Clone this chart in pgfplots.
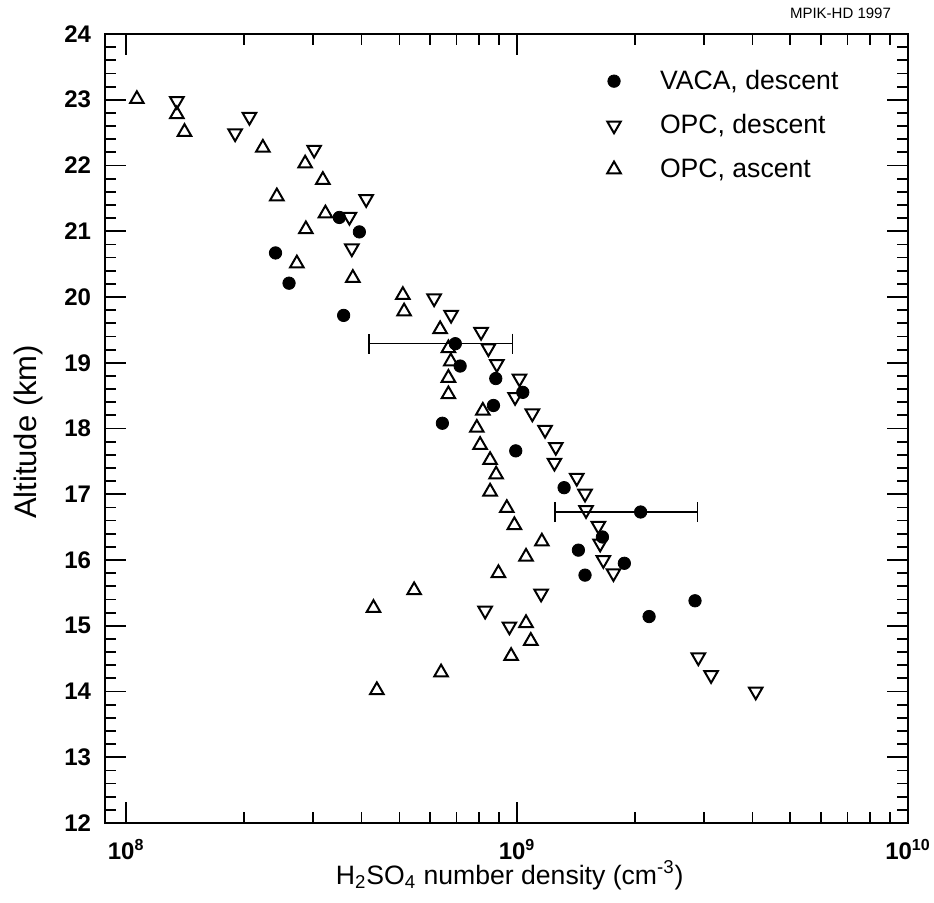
\documentclass[border=0pt]{standalone}
\usepackage{fontspec}
\setmainfont{Liberation Sans}
\usepackage{pgfplots}
\pgfplotsset{compat=1.18}

% VACA, descent (no error bar)
\pgfplotstableread{
x y
3.51e8 21.21
3.95e8 20.99
2.41e8 20.67
2.61e8 20.21
3.60e8 19.72
7.15e8 18.95
8.82e8 18.76
1.034e9 18.55
8.70e8 18.35
6.44e8 18.08
9.92e8 17.66
1.319e9 17.10
1.653e9 16.35
1.435e9 16.15
1.881e9 15.95
1.492e9 15.77
2.176e9 15.14
2.852e9 15.38
}\vaca
% VACA points with error bars
\pgfplotstableread{
x y ex
6.95e8 19.29 2.77e8
2.07e9 16.73 8.2e8
}\vacaerr
% OPC, descent
\pgfplotstableread{
x y
1.348e8 22.98
2.067e8 22.74
1.900e8 22.49
3.026e8 22.24
4.111e8 21.49
3.725e8 21.22
3.778e8 20.74
6.134e8 19.98
6.779e8 19.73
8.088e8 19.47
8.445e8 19.22
8.874e8 18.98
1.014e9 18.76
9.883e8 18.48
1.094e9 18.23
1.179e9 17.98
1.256e9 17.72
1.246e9 17.48
1.421e9 17.25
1.492e9 17.01
1.501e9 16.76
1.614e9 16.52
1.631e9 16.25
1.662e9 16.00
1.764e9 15.80
1.152e9 15.49
8.284e8 15.23
9.557e8 14.99
2.908e9 14.52
3.135e9 14.25
4.078e9 14.00
}\opcdown
% OPC, ascent
\pgfplotstableread{
x y
1.065e8 23.01
1.348e8 22.78
1.410e8 22.51
2.237e8 22.27
2.870e8 22.03
3.185e8 21.78
2.429e8 21.53
3.234e8 21.27
2.882e8 21.03
2.733e8 20.51
3.801e8 20.29
5.102e8 20.03
5.140e8 19.78
6.355e8 19.51
6.673e8 19.22
6.768e8 19.02
6.673e8 18.77
6.673e8 18.52
8.172e8 18.27
7.888e8 18.01
8.043e8 17.75
8.530e8 17.52
8.838e8 17.30
8.530e8 17.04
9.412e8 16.79
9.842e8 16.53
1.157e9 16.28
1.054e9 16.05
8.959e8 15.80
5.453e8 15.54
4.292e8 15.27
1.054e9 15.04
1.084e9 14.77
9.654e8 14.54
6.391e8 14.29
4.378e8 14.02
}\opcup

\begin{document}
\begin{tikzpicture}
\useasboundingbox (-52.5pt,-39.5pt) rectangle (414.5pt,411.5pt);
\begin{axis}[
    scale only axis,
    width=401.5pt, height=394.5pt,
    xmode=log,
    xmin=8.83e7, xmax=1e10,
    ymin=12, ymax=24,
    xtick={1e8,1e9,1e10},
    xticklabels={10\textsuperscript{8},10\textsuperscript{9},10\textsuperscript{10}},
    minor xtick={2e8,3e8,4e8,5e8,6e8,7e8,8e8,9e8,2e9,3e9,4e9,5e9,6e9,7e9,8e9,9e9},
    ytick={12,13,...,24},
    minor y tick num=4,
    /pgf/number format/assume math mode=true,
    tick align=inside,
    major tick length=10.5pt,
    minor tick length=5.5pt,
    every tick/.style={black, line width=0.9pt},
    axis line style={line width=1.1pt},
    ticklabel style={font=\bfseries\fontsize{12}{14}\selectfont},
    xticklabel style={anchor=base, inner sep=0pt, yshift=-18pt},
    yticklabel style={anchor=east, xshift=-3.5pt},
    xlabel={H\textsubscript{2}SO\textsubscript{4} number density (cm\textsuperscript{-3})},
    ylabel={Altitude (km)},
    xlabel style={font=\fontsize{13.3}{16}\selectfont, inner sep=0pt, at={(axis description cs:0.504,-0.0775)}, anchor=base},
    ylabel style={font=\fontsize{15.5}{18}\selectfont, inner sep=0pt, at={(axis description cs:-0.0859,0.4956)}, anchor=base},
    legend image code/.code={\draw[#1] plot coordinates {(0pt,0pt)}; \path[draw=none] (0pt,0pt) (21pt,0pt);},
    reverse legend,
    legend cell align=left,
    legend style={draw=none, fill=none, font=\fontsize{13.3}{16}\selectfont,
        at={(axis description cs:0.6175,0.965)}, anchor=north west, row sep=7pt},
]
\addplot[only marks, mark=triangle, mark size=3.9pt, mark options={line width=1pt, black}]
    table[x=x, y=y] {\opcup};
\addlegendentry{OPC, ascent}
\addplot[only marks, mark=triangle, mark size=3.9pt, mark options={line width=1pt, black, rotate=180}]
    table[x=x, y=y] {\opcdown};
\addlegendentry{OPC, descent}
\addplot[forget plot, only marks, mark=*, mark size=3.1pt, mark options={black, fill=black},
    error bars/.cd, x dir=both, x explicit,
    error bar style={line width=0.6pt, black},
    error mark options={rotate=90, mark size=5pt, line width=0.6pt, black}]
    table[x=x, y=y, x error=ex] {\vacaerr};
\addplot[only marks, mark=*, mark size=3.1pt, mark options={black, fill=black}]
    table[x=x, y=y] {\vaca};
\addlegendentry{VACA, descent}
\end{axis}
\node[anchor=base east, font=\fontsize{7.5}{9}\selectfont] at (396.5pt,402.5pt) {MPIK-HD 1997};
\end{tikzpicture}
\end{document}
